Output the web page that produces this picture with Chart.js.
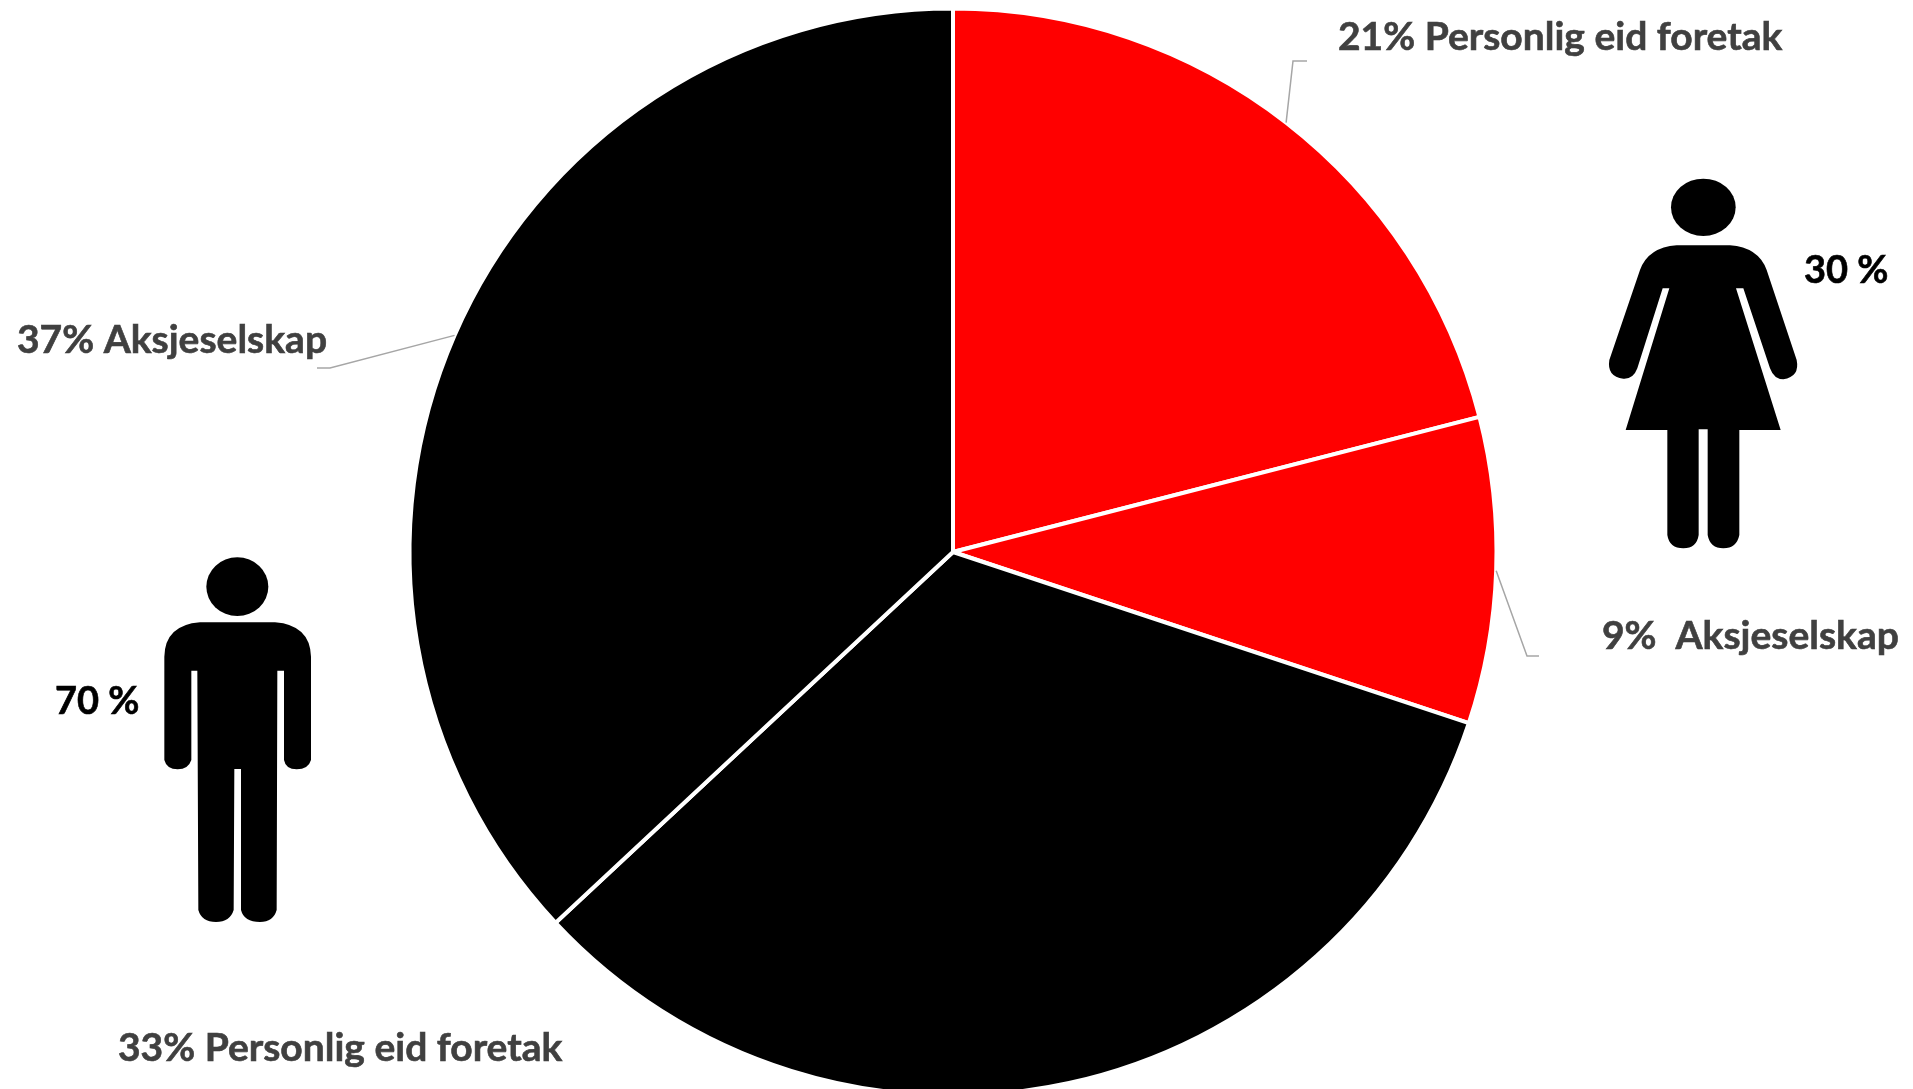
<!DOCTYPE html>
<html lang="no">
<head>
    <meta charset="UTF-8">
    <title>Eierform og kjønn</title>
    <style>
        html, body { margin: 0; padding: 0; background: #fff; overflow: hidden; }
        canvas { display: block; }
    </style>
</head>
<body>
    <canvas id="pie" width="1913" height="1089"></canvas>

    <script src="https://cdn.jsdelivr.net/npm/chart.js"></script>
    <script>
        const sliceNames = ['21% Personlig eid foretak', '9%  Aksjeselskap', '33% Personlig eid foretak', '37% Aksjeselskap'];
        const sliceValues = [21, 9.1, 32.95, 36.95];
        const sliceColors = ['#ff0000', '#ff0000', '#000000', '#000000'];
        const womenLabel = '30 %';
        const menLabel = '70 %';

        // where each outside label goes, leader elbow and end (null = no leader)
        const labelLayout = [
            { x: 1338, y: 50, elbow: [1293, 61], end: [1307, 61] },
            { x: 1602, y: 649, elbow: [1527, 656], end: [1539, 656] },
            { x: 118, y: 1061, elbow: null, end: null },
            { x: 17, y: 353, elbow: [330, 368], end: [317, 368] }
        ];

        // pictograms at 3x
        const womanBody = new Path2D('M290 256 L450 256 Q535 262 560 330 L650 600 Q660 650 610 658 Q582 658 570 625 L490 385 L468 385 L602 810 L478 810 L478 1125 Q470 1165 430 1165 Q390 1165 383 1125 L383 808 L356 808 L356 1125 Q350 1165 310 1165 Q268 1165 262 1125 L262 810 L137 810 L268 385 L248 385 L172 625 Q160 658 130 656 Q80 650 88 600 L180 330 Q205 262 290 256 Z');
        const manBody = new Path2D('M510 247 L735 247 Q840 255 843 350 L843 660 Q835 688 800 688 Q767 688 762 660 L762 392 L742 392 L740 1110 Q730 1146 690 1146 Q642 1146 633 1110 L633 687 L613 687 L611 1110 Q600 1146 558 1146 Q515 1146 505 1110 L502 392 L484 392 L484 660 Q475 688 443 688 Q410 688 403 660 L403 350 Q405 255 510 247 Z');

        function drawFigure(ctx, x, y, body, headX, headY, headRx, headRy) {
            ctx.save();
            ctx.translate(x, y);
            ctx.scale(1 / 3, 1 / 3);
            ctx.fillStyle = '#000';
            ctx.beginPath();
            ctx.ellipse(headX, headY, headRx, headRy, 0, 0, Math.PI * 2);
            ctx.fill();
            ctx.fill(body);
            ctx.restore();
        }

        // Lato bold is a bit lighter than the original face, so stroke it too
        function heavyText(ctx, text, x, y) {
            ctx.fillText(text, x, y);
            ctx.strokeText(text, x, y);
        }

        const annotations = {
            id: 'annotations',
            afterDraw(chart) {
                const ctx = chart.ctx;
                const arcs = chart.getDatasetMeta(0).data;

                ctx.save();
                ctx.textBaseline = 'alphabetic';
                ctx.font = 'bold 39px Lato';
                ctx.fillStyle = '#404040';
                sliceNames.forEach((name, i) => {
                    const place = labelLayout[i];
                    ctx.strokeStyle = '#404040';
                    ctx.lineWidth = 0.6;
                    heavyText(ctx, name, place.x, place.y);
                    if (!place.elbow) return;
                    // leader starts at the middle of the slice's outer edge
                    const arc = arcs[i];
                    const mid = (arc.startAngle + arc.endAngle) / 2;
                    ctx.beginPath();
                    ctx.moveTo(arc.x + Math.cos(mid) * arc.outerRadius, arc.y + Math.sin(mid) * arc.outerRadius);
                    ctx.lineTo(place.elbow[0], place.elbow[1]);
                    ctx.lineTo(place.end[0], place.end[1]);
                    ctx.strokeStyle = '#a6a6a6';
                    ctx.lineWidth = 1.5;
                    ctx.stroke();
                });

                ctx.font = 'bold 38px Lato';
                ctx.fillStyle = '#000';
                ctx.strokeStyle = '#000';
                ctx.lineWidth = 0.6;
                heavyText(ctx, womenLabel, 1804, 283);
                heavyText(ctx, menLabel, 55, 714);
                ctx.restore();

                drawFigure(ctx, 1580, 160, womanBody, 370, 142, 97, 86);
                drawFigure(ctx, 30, 540, manBody, 622, 140, 93, 88);
            }
        };

        new Chart(document.getElementById('pie').getContext('2d'), {
            type: 'pie',
            data: {
                labels: sliceNames,
                datasets: [{
                    data: sliceValues,
                    backgroundColor: sliceColors,
                    borderColor: '#ffffff',
                    borderWidth: 4,
                    radius: 543.5
                }]
            },
            options: {
                responsive: false,
                animation: false,
                layout: { padding: { top: 15, right: 7 } },
                plugins: {
                    legend: { display: false },
                    tooltip: { enabled: false }
                }
            },
            plugins: [annotations]
        });
    </script>
</body>
</html>
